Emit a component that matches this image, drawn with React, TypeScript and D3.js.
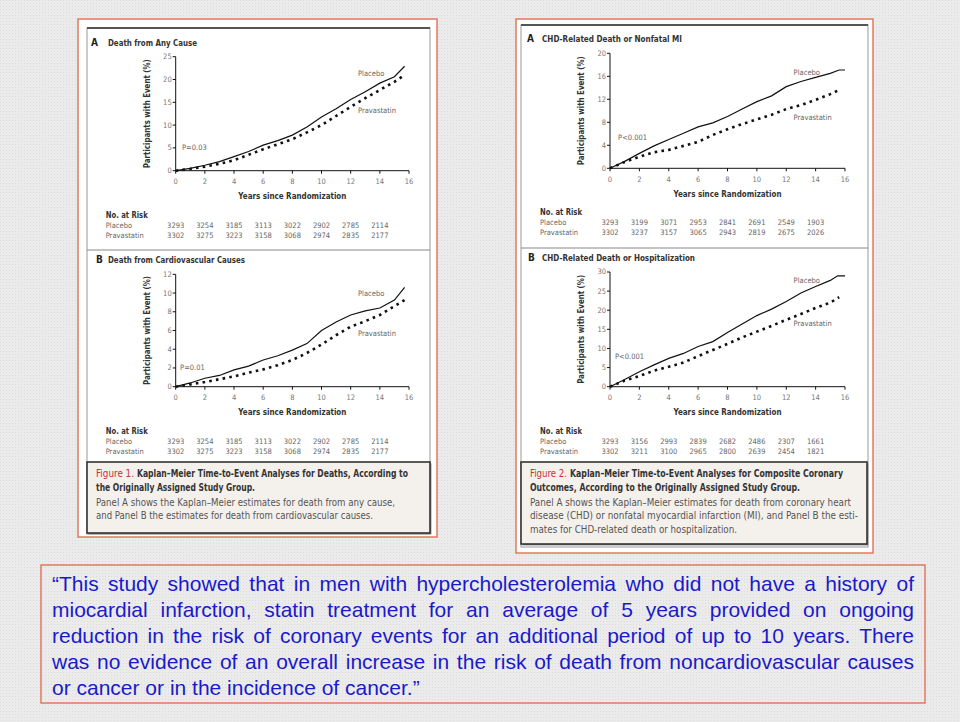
import React, { useEffect, useRef } from 'react';
import * as d3 from 'd3';

// ---- data ----
const riskYears = [0, 2, 4, 6, 8, 10, 12, 14];
const xTicks = [0, 2, 4, 6, 8, 10, 12, 14, 16];

const yearsStd = [0, 1, 2, 3, 4, 5, 6, 7, 8, 9, 10, 11, 12, 13, 14, 15, 15.7];

// Figure 1A: death from any cause
const placeboAny = [0, 0.5, 1.2, 2.0, 3.1, 4.2, 5.6, 6.6, 7.8, 9.6, 11.8, 13.6, 15.6, 17.3, 19.2, 20.6, 22.9];
const pravaAny = [0, 0.4, 0.9, 1.5, 2.3, 3.5, 4.7, 5.8, 6.9, 8.4, 10.0, 12.0, 14.0, 15.9, 17.7, 19.5, 21.0];

// Figure 1B: death from cardiovascular causes
const placeboCV = [0, 0.4, 0.9, 1.2, 1.8, 2.2, 2.85, 3.3, 3.9, 4.6, 6.0, 6.9, 7.65, 8.1, 8.4, 9.25, 10.6];
const pravaCV = [0, 0.25, 0.5, 0.8, 1.1, 1.5, 1.85, 2.3, 2.85, 3.6, 4.5, 5.5, 6.4, 7.0, 7.65, 8.6, 9.25];

// Figure 2A: CHD-related death or nonfatal MI
const yearsMIPlacebo = [0, 1, 2, 3, 4, 5, 6, 7, 8, 9, 10, 11, 12, 13, 14, 15, 15.6, 16];
const placeboMI = [0, 1.2, 2.6, 3.9, 5.0, 6.1, 7.2, 7.9, 9.0, 10.3, 11.6, 12.6, 14.2, 15.1, 15.8, 16.5, 17.1, 17.1];
const yearsMIPrava = [0, 1, 2, 3, 4, 5, 6, 7, 8, 9, 10, 11, 12, 13, 14, 15, 15.5];
const pravaMI = [0, 1.1, 2.0, 2.8, 3.2, 3.9, 4.6, 5.8, 6.8, 7.7, 8.5, 9.3, 10.3, 11.0, 11.9, 12.9, 13.5];

// Figure 2B: CHD-related death or hospitalization
const yearsHospPlacebo = [0, 1, 2, 3, 4, 5, 6, 7, 8, 9, 10, 11, 12, 13, 14, 15, 15.5, 16];
const placeboHosp = [0, 1.9, 3.9, 5.7, 7.4, 8.7, 10.5, 11.8, 14.2, 16.4, 18.6, 20.3, 22.3, 24.5, 26.2, 27.8, 29.0, 29.0];
const yearsHospPrava = [0, 1, 2, 3, 4, 5, 6, 7, 8, 9, 10, 11, 12, 13, 14, 15, 15.6];
const pravaHosp = [0, 1.6, 2.8, 4.2, 5.2, 6.3, 8.0, 9.6, 11.2, 12.9, 14.4, 15.9, 17.5, 19.0, 20.6, 22.0, 23.4];

// numbers at risk
const riskDeathPlacebo = [3293, 3254, 3185, 3113, 3022, 2902, 2785, 2114];
const riskDeathPrava = [3302, 3275, 3223, 3158, 3068, 2974, 2835, 2177];
const riskMIPlacebo = [3293, 3199, 3071, 2953, 2841, 2691, 2549, 1903];
const riskMIPrava = [3302, 3237, 3157, 3065, 2943, 2819, 2675, 2026];
const riskHospPlacebo = [3293, 3156, 2993, 2839, 2682, 2486, 2307, 1661];
const riskHospPrava = [3302, 3211, 3100, 2965, 2800, 2639, 2454, 1821];

const quoteLines = [
  '\u201CThis study showed that in men with hypercholesterolemia who did not have a history of',
  'miocardial infarction, statin treatment for an average of 5 years provided on ongoing',
  'reduction in the risk of coronary events for an additional period of up to 10 years. There',
  'was no evidence of an overall increase in the risk of death from noncardiovascular causes',
  'or cancer or in the incidence of cancer.\u201D',
];

const FONT = "'Liberation Sans Narrow', 'DejaVu Sans Condensed', 'Liberation Sans', sans-serif";
const ORANGE = '#e27a5d';

interface PanelProps {
  left: number; right: number; top: number; bottom: number;
  yMax: number; yStep: number;
  letter: string; title: string; titleW: number; letterX: number; titleX: number;
  placeboX: number[]; placeboY: number[];
  pravaX: number[]; pravaY: number[];
  pText: string; pAt: [number, number];
  placeboAt: number; pravaAt: number;
  riskPlacebo: number[]; riskPrava: number[];
}

const KMPanel: React.FC<PanelProps> = (p) => {
  const x = d3.scaleLinear().domain([0, 16]).range([p.left, p.right]);
  const y = d3.scaleLinear().domain([0, p.yMax]).range([p.bottom, p.top]);
  const yTicks = d3.range(0, p.yMax + 0.001, p.yStep);
  const line = d3.line<[number, number]>().x(d => x(d[0])).y(d => y(d[1])).curve(d3.curveLinear);
  const plac = p.placeboX.map((v, i) => [v, p.placeboY[i]] as [number, number]);
  const prav = p.pravaX.map((v, i) => [v, p.pravaY[i]] as [number, number]);
  const b = p.bottom;
  const rowX = p.left - 70;
  return (
    <g fontFamily={FONT}>
      <text x={p.letterX} y={p.top - 11} fontSize={10} fontWeight="bold" fill="#222">{p.letter}</text>
      <text x={p.titleX} y={p.top - 11} fontSize={9.5} fontWeight="bold" fill="#333"
        textLength={p.titleW} lengthAdjust="spacingAndGlyphs">{p.title}</text>
      {/* y axis */}
      <line x1={p.left} x2={p.left} y1={p.top} y2={p.bottom} stroke="#111" strokeWidth={1} />
      {yTicks.map(t => (
        <g key={'y' + t}>
          <line x1={p.left - 3} x2={p.left} y1={y(t)} y2={y(t)} stroke="#111" />
          <text x={p.left - 4} y={y(t)} dy="0.33em" textAnchor="end" fontSize={7.5} fill="#777">{t}</text>
        </g>
      ))}
      <text transform={`translate(${p.left - 29},${(p.top + p.bottom) / 2}) rotate(-90)`} textAnchor="middle"
        dy="0.33em" fontSize={9} fontWeight="bold" fill="#333" textLength={109} lengthAdjust="spacingAndGlyphs">
        Participants with Event (%)
      </text>
      {/* x axis */}
      <line x1={p.left} x2={p.right} y1={b} y2={b} stroke="#111" strokeWidth={1} />
      {xTicks.map(t => (
        <g key={'x' + t}>
          <line x1={x(t)} x2={x(t)} y1={b} y2={b + 3} stroke="#111" />
          <text x={x(t)} y={b + 13.5} textAnchor="middle" fontSize={7.5} fill="#777">{t}</text>
        </g>
      ))}
      <text x={(p.left + p.right) / 2} y={b + 28.5} textAnchor="middle" fontSize={9.5} fontWeight="bold" fill="#333"
        textLength={108} lengthAdjust="spacingAndGlyphs">
        Years since Randomization
      </text>
      {/* curves */}
      <path d={line(plac) || ''} fill="none" stroke="#111" strokeWidth={1.2} />
      <path d={line(prav) || ''} fill="none" stroke="#111" strokeWidth={2.6} strokeDasharray="2.6 4.2" />
      <text x={x(12.5)} y={y(p.placeboAt)} dy="0.33em" fontSize={7.5} fill="#666">Placebo</text>
      <text x={x(12.5)} y={y(p.pravaAt)} dy="0.33em" fontSize={7.5} fill="#666">Pravastatin</text>
      <text x={x(p.pAt[0])} y={y(p.pAt[1])} dy="0.33em" fontSize={7.5} fill="#666">{p.pText}</text>
      {/* numbers at risk */}
      <text x={rowX} y={b + 47} fontSize={9.5} fontWeight="bold" fill="#333"
        textLength={42} lengthAdjust="spacingAndGlyphs">No. at Risk</text>
      <text x={rowX} y={b + 57} fontSize={7.5} fill="#666">Placebo</text>
      <text x={rowX} y={b + 67} fontSize={7.5} fill="#666">Pravastatin</text>
      {riskYears.map((t, i) => (
        <g key={'r' + t}>
          <text x={x(t)} y={b + 57} textAnchor="middle" fontSize={7.5} fill="#666">{p.riskPlacebo[i]}</text>
          <text x={x(t)} y={b + 67} textAnchor="middle" fontSize={7.5} fill="#666">{p.riskPrava[i]}</text>
        </g>
      ))}
    </g>
  );
};

interface CaptionProps {
  x: number; y: number; w: number; h: number; tx: number;
  num: string; numEnd: number; boldStart: number;
  bold: string[]; plain: string[]; ends: number[];
}

const Caption: React.FC<CaptionProps> = (c) => {
  const lines = [...c.bold, ...c.plain];
  return (
    <g fontFamily={FONT}>
      <rect x={c.x + 1.5} y={c.y + 1.5} width={c.w} height={c.h} fill="#9a9a9a" />
      <rect x={c.x} y={c.y} width={c.w} height={c.h} fill="#f4f0ec" stroke="#333" strokeWidth={1.6} />
      <text x={c.tx} y={c.y + 15} fontSize={10.5} fill="#c8323a"
        textLength={c.numEnd - c.tx} lengthAdjust="spacingAndGlyphs">{c.num}</text>
      {lines.map((l, i) => {
        const isBold = i < c.bold.length;
        const yy = c.y + 15 + i * 13.6 + (isBold ? 0 : 1.5);
        const sx = i === 0 ? c.boldStart : c.tx;
        return (
          <text key={i} x={sx} y={yy} fontSize={isBold ? 10.5 : 10} fontWeight={isBold ? 'bold' : 'normal'}
            fill={isBold ? '#333' : '#555'} textLength={c.ends[i] - sx} lengthAdjust="spacingAndGlyphs">
            {l}
          </text>
        );
      })}
    </g>
  );
};

const App: React.FC = () => {
  const lineRefs = useRef<(SVGTextElement | null)[]>([]);
  const quoteLeft = 52;
  const quoteRight = 914;

  useEffect(() => {
    lineRefs.current.forEach((el, i) => {
      if (!el || i === quoteLines.length - 1) return;
      el.style.wordSpacing = '0px';
      const w = el.getComputedTextLength();
      const spaces = (quoteLines[i].match(/ /g) || []).length;
      el.style.wordSpacing = `${(quoteRight - quoteLeft - w) / spaces}px`;
    });
  }, []);

  return (
    <svg width={960} height={722} style={{ position: 'absolute', left: 0, top: 0 }}>
      <defs>
        <pattern id="dots" width={3} height={3} patternUnits="userSpaceOnUse">
          <rect width={3} height={3} fill="#ebebeb" />
          <rect width={1} height={1} fill="#dcdcdc" />
        </pattern>
      </defs>
      <rect width={960} height={722} fill="url(#dots)" />

      {/* Figure 1 */}
      <rect x={78} y={19} width={359} height={518} fill="#fff" stroke={ORANGE} strokeWidth={1.5} />
      <rect x={87} y={28} width={343} height={506} fill="#fff" stroke="#999" strokeWidth={1} />
      <line x1={87} x2={430} y1={28} y2={28} stroke="#555" strokeWidth={2} />
      <line x1={87} x2={430} y1={250} y2={250} stroke="#888" strokeWidth={1} />
      <KMPanel left={175.7} right={409} top={56.7} bottom={170.7} yMax={25} yStep={5}
        letter="A" title="Death from Any Cause" titleW={89} letterX={91} titleX={108}
        placeboX={yearsStd} placeboY={placeboAny} pravaX={yearsStd} pravaY={pravaAny}
        pText="P=0.03" pAt={[0.43, 5.0]} placeboAt={21.4} pravaAt={13.1}
        riskPlacebo={riskDeathPlacebo} riskPrava={riskDeathPrava} />
      <KMPanel left={175.7} right={409} top={274.3} bottom={386.7} yMax={12} yStep={2}
        letter="B" title="Death from Cardiovascular Causes" titleW={137} letterX={96} titleX={108}
        placeboX={yearsStd} placeboY={placeboCV} pravaX={yearsStd} pravaY={pravaCV}
        pText="P=0.01" pAt={[0.3, 2.1]} placeboAt={9.9} pravaAt={5.7}
        riskPlacebo={riskDeathPlacebo} riskPrava={riskDeathPrava} />
      <Caption x={87} y={462} w={343} h={71} tx={96} num="Figure 1." numEnd={134} boldStart={137}
        bold={['Kaplan\u2013Meier Time-to-Event Analyses for Deaths, According to', 'the Originally Assigned Study Group.']}
        plain={['Panel A shows the Kaplan\u2013Meier estimates for death from any cause,',
          'and Panel B the estimates for death from cardiovascular causes.']}
        ends={[408, 255, 395, 373]} />

      {/* Figure 2 */}
      <rect x={516} y={19} width={357} height={534} fill="#fff" stroke={ORANGE} strokeWidth={1.5} />
      <rect x={521} y={25} width={347} height={522} fill="#fff" stroke="#999" strokeWidth={1} />
      <line x1={521} x2={868} y1={25} y2={25} stroke="#555" strokeWidth={2} />
      <line x1={521} x2={868} y1={248} y2={248} stroke="#888" strokeWidth={1} />
      <KMPanel left={610} right={845} top={53.3} bottom={168.3} yMax={20} yStep={4}
        letter="A" title="CHD-Related Death or Nonfatal MI" titleW={140} letterX={527} titleX={542}
        placeboX={yearsMIPlacebo} placeboY={placeboMI} pravaX={yearsMIPrava} pravaY={pravaMI}
        pText="P<0.001" pAt={[0.55, 5.4]} placeboAt={16.6} pravaAt={8.9}
        riskPlacebo={riskMIPlacebo} riskPrava={riskMIPrava} />
      <KMPanel left={610} right={845} top={272} bottom={386.7} yMax={30} yStep={5}
        letter="B" title="CHD-Related Death or Hospitalization" titleW={153} letterX={528} titleX={542}
        placeboX={yearsHospPlacebo} placeboY={placeboHosp} pravaX={yearsHospPrava} pravaY={pravaHosp}
        pText="P<0.001" pAt={[0.34, 7.8]} placeboAt={27.7} pravaAt={16.4}
        riskPlacebo={riskHospPlacebo} riskPrava={riskHospPrava} />
      <Caption x={521} y={462} w={346} h={82} tx={530} num="Figure 2." numEnd={567} boldStart={570}
        bold={['Kaplan\u2013Meier Time-to-Event Analyses for Composite Coronary',
          'Outcomes, According to the Originally Assigned Study Group.']}
        plain={['Panel A shows the Kaplan\u2013Meier estimates for death from coronary heart',
          'disease (CHD) or nonfatal myocardial infarction (MI), and Panel B the esti-',
          'mates for CHD-related death or hospitalization.']}
        ends={[843, 800, 851, 858, 737]} />

      {/* quote box */}
      <rect x={41} y={565} width={884} height={138} fill="url(#dots)" stroke={ORANGE} strokeWidth={1.5} />
      {quoteLines.map((l, i) => (
        <text key={i} ref={el => { lineRefs.current[i] = el; }} x={quoteLeft} y={591 + i * 26}
          fontFamily="'Liberation Sans', Arial, sans-serif" fontSize={21} fill="#1a1acb">{l}</text>
      ))}
    </svg>
  );
};

export default App;
